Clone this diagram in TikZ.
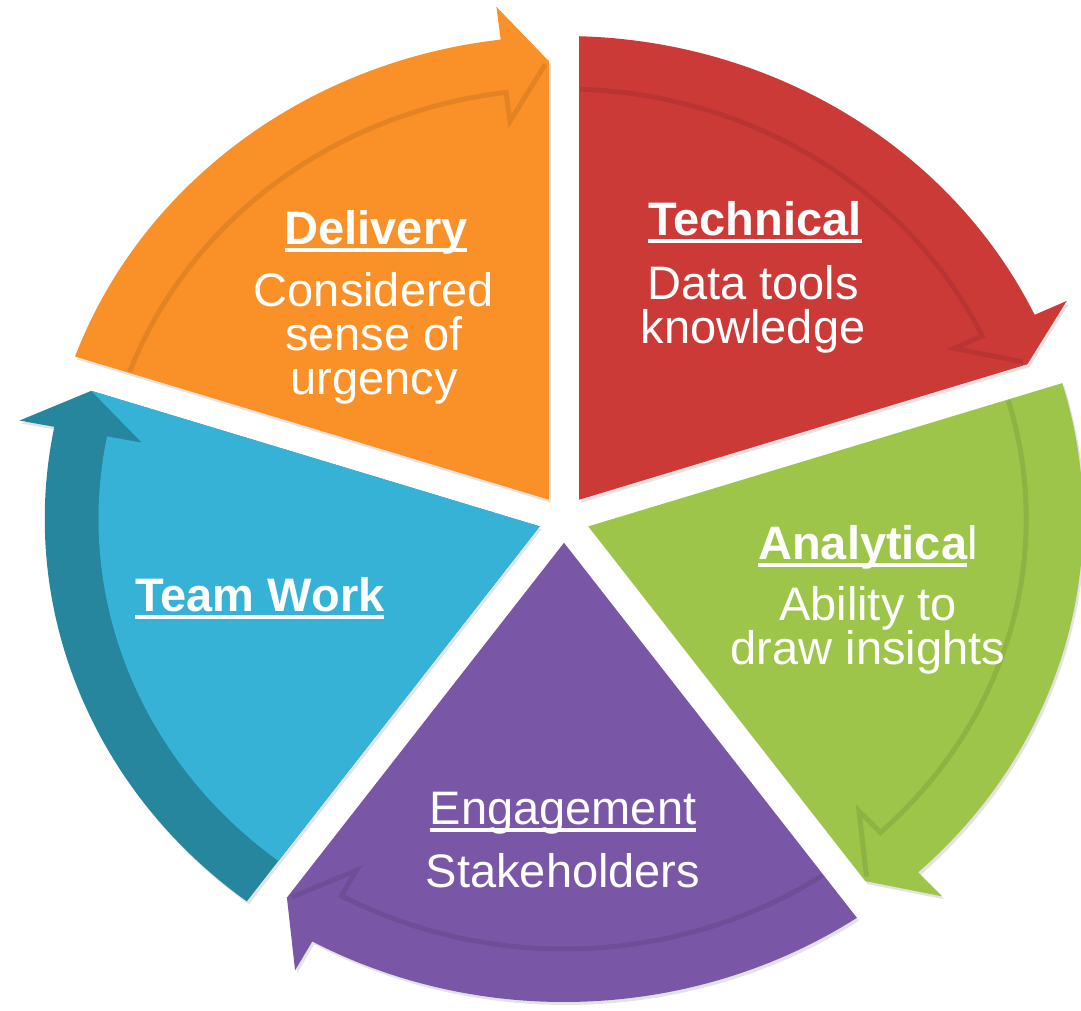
\documentclass[tikz,border=0pt]{standalone}
\usepackage{fontspec}
\setmainfont{Liberation Sans}
\usetikzlibrary{positioning, shadows}
\definecolor{delivorange}{RGB}{250, 145, 40}
\definecolor{techred}{RGB}{204, 58, 56}
\definecolor{analygreen}{RGB}{157, 197, 74}
\definecolor{engpurple}{RGB}{122, 87, 166}
\definecolor{teamblue}{RGB}{53, 178, 214}
\definecolor{teamband}{RGB}{38, 134, 158}

% heading text with a heavy rule under it
\newcommand{\ulhead}[1]{\setbox0\hbox{#1}\rlap{\rule[-7.5pt]{\wd0}{4pt}}\box0}

\begin{document}
\begin{tikzpicture}[
        x=1pt, y=1pt,
        segshadow/.style={drop shadow={opacity=0.22, shadow xshift=2pt, shadow yshift=-3pt}},
        bandedge/.style={black, opacity=0.09, line width=5pt},
        headtext/.style={text=white, inner sep=0pt, anchor=base, font=\fontsize{47}{44}\selectfont\bfseries},
        bodytext/.style={text=white, inner sep=0pt, anchor=north, align=center, font=\fontsize{47}{44}\selectfont}
    ]
    \useasboundingbox (-564,-491) rectangle (517,519);

    % five slices, each with a curved arrow on its rim
    \begin{scope}[xscale=1.075]
        \foreach \endang/\slicecol in {90/delivorange, 18/techred, -54/analygreen, -126/engpurple}{
            \fill[\slicecol, segshadow]
                ({\endang+36}:23.8) -- ({\endang+1.75}:458) -- ({\endang+7}:516) -- ({\endang+7}:483)
                arc[start angle=\endang+7, end angle=\endang+70.34, radius=483pt] -- cycle;
            \draw[bandedge]
                ({\endang+70.0}:430) arc[start angle=\endang+70.0, end angle=\endang+7.2, radius=430pt]
                -- ({\endang+7.2}:401) -- ({\endang+2.2}:455);
        }
        % team work slice has a darker band
        \fill[teamband, segshadow]
            (198:23.8) -- (163.75:458) -- (169:516) -- (169:483)
            arc[start angle=169, end angle=232.34, radius=483pt] -- cycle;
        \fill[teamblue]
            (198:23.8) -- (163.75:458) -- (169:400) -- (169:433)
            arc[start angle=169, end angle=232.15, radius=433pt] -- cycle;
    \end{scope}

    \node[headtext] (delivery) at (-188, 274) {\ulhead{Delivery}};
    \node[bodytext] (delivdesc) at (-190, 247) {Considered\\sense of\\urgency};
    \node[headtext] (technical) at (191, 283) {\ulhead{Technical}};
    \node[bodytext] (techdesc) at (189, 254) {Data tools\\knowledge};
    \node[headtext] (analytical) at (304, -40) {\ulhead{Analytica}\mdseries l};
    \node[bodytext] (analydesc) at (304, -67) {Ability to\\draw insights};
    \node[headtext] (teamwork) at (-304, -92) {\ulhead{Team Work}};
    \node[headtext, font=\fontsize{47}{44}\selectfont] (engagement) at (-1, -305) {\ulhead{Engagement}};
    \node[bodytext] (engdesc) at (-1, -334) {Stakeholders};
\end{tikzpicture}
\end{document}
